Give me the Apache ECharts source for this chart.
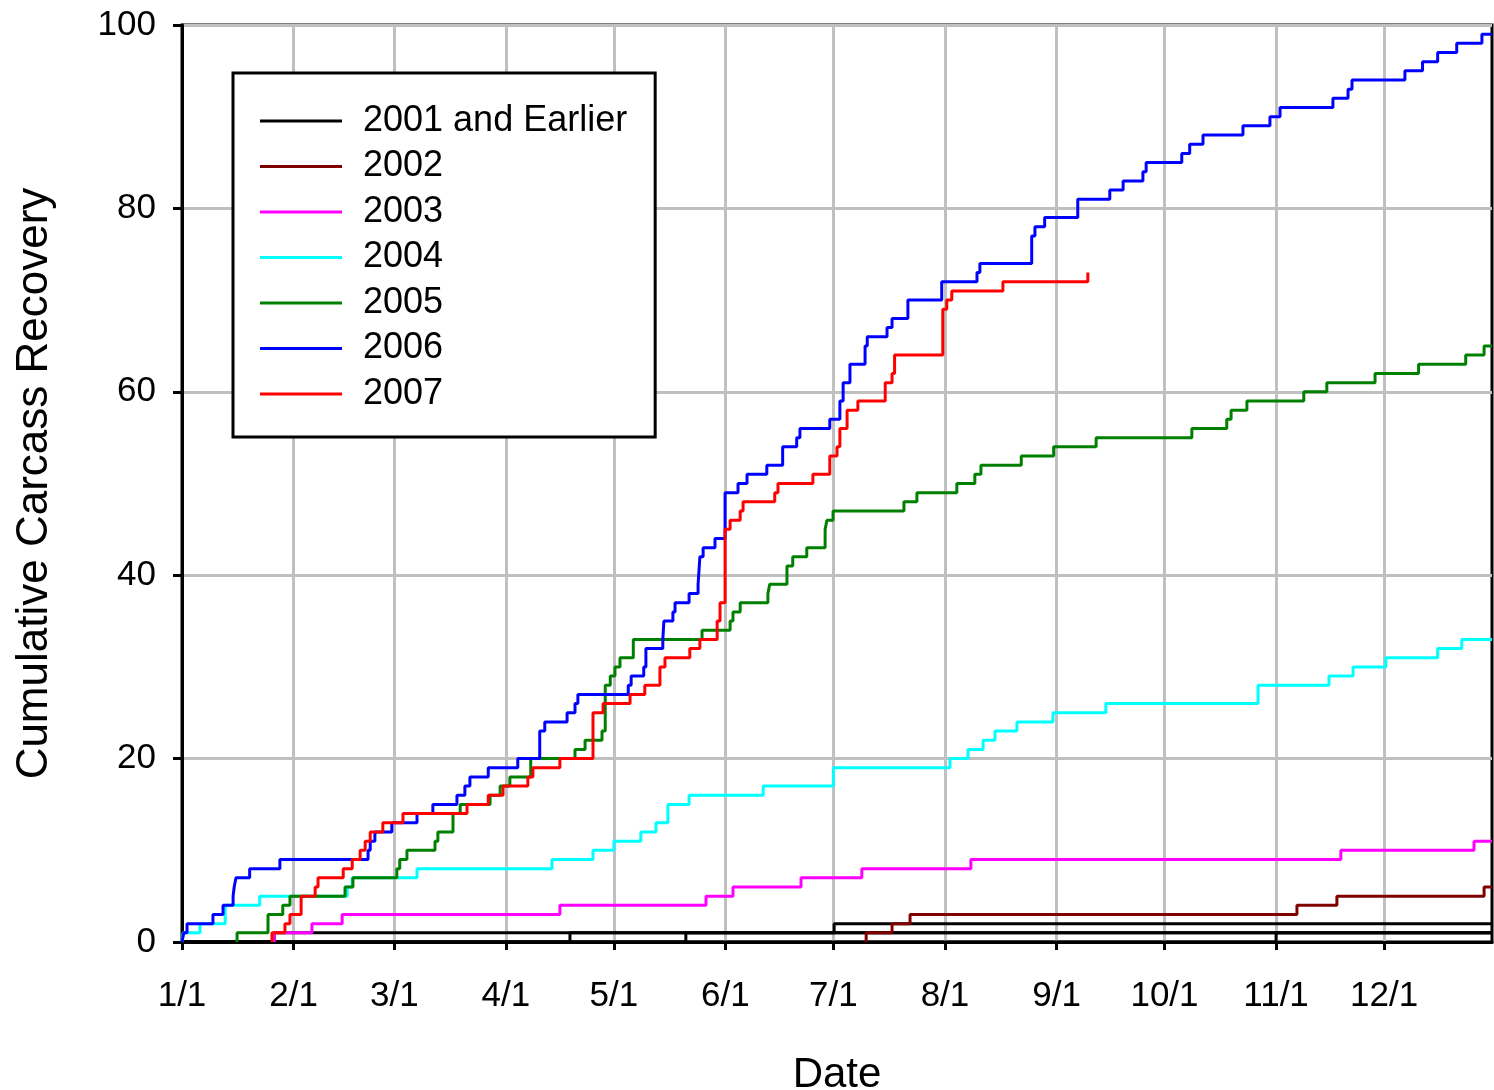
<!DOCTYPE html>
<html lang="en">
<head>
    <meta charset="UTF-8">
    <title>Cumulative Carcass Recovery</title>
    <script src="https://cdn.jsdelivr.net/npm/echarts@6.0.0/dist/echarts.min.js"></script>
    <style>
        body { margin: 0; background: #fff; }
    </style>
</head>
<body>
<div id="main" style="width:1494px;height:1090px;"></div>
<script type="text/javascript">
    // x = day of year (0 = 1/1), y = cumulative count
    var monthDays = [0, 31, 59, 90, 120, 151, 181, 212, 243, 273, 304, 334];
    var monthLabels = ['1/1', '2/1', '3/1', '4/1', '5/1', '6/1', '7/1', '8/1', '9/1', '10/1', '11/1', '12/1'];

    // "2001 and Earlier" is several black step lines
    var earlierA = [[0, 0], [25.6, 1], [181.2, 2], [364, 2]];
    var earlierB = [[0, 0], [107.8, 1], [364, 1]];
    var earlierC = [[0, 0], [140.0, 1], [364, 1]];
    var earlierD = [[0, 0], [304.0, 1], [364, 1]];

    var y2002 = [[190.1, 0], [190.1, 1], [197.3, 2], [202.3, 3], [309.8, 4], [320.9, 5], [361.8, 6], [364, 6]];

    var y2003 = [[25.6, 0], [25.6, 1], [36.1, 2], [44.5, 3], [105.0, 4], [145.6, 5], [153.1, 6], [172.0, 7],
        [188.9, 8], [219.2, 9], [322.0, 10], [359.0, 11], [364, 11]];

    var y2004 = [[0, 0], [0.3, 1], [5.0, 2], [12.0, 4], [21.6, 5], [45.9, 6], [47.3, 7], [65.3, 8], [102.8, 9],
        [114.2, 10], [120.0, 11], [127.5, 12], [131.7, 13], [135.0, 15], [140.9, 16], [161.5, 17], [181.0, 19],
        [213.4, 20], [218.4, 21], [222.6, 22], [225.9, 23], [232.0, 24], [242.0, 25], [256.7, 26], [299.0, 28],
        [318.7, 29], [325.4, 30], [334.5, 31], [348.9, 32], [355.6, 33], [364, 33]];

    var y2005 = [[15.3, 0], [15.3, 1], [23.9, 3], [28.0, 4], [30.0, 5], [45.3, 6], [47.5, 7], [59.7, 8], [60.5, 9],
        [62.5, 10], [70.3, 11], [71.1, 12], [75.3, 14], [77.3, 15], [85.6, 16], [88.4, 17], [91.1, 18], [96.9, 20],
        [109.2, 21], [112.0, 22], [116.7, 23], [117.6, 28], [119.0, 29], [120.3, 30], [121.7, 31], [125.4, 33],
        [144.5, 34], [152.3, 35], [153.1, 36], [155.1, 37], [162.8, 38], [163.3, 39], [168.1, 41], [169.7, 42],
        [173.6, 43], [178.7, 45], [179.2, 46], [180.9, 47], [200.6, 48], [204.2, 49], [215.3, 50], [220.3, 51],
        [222.0, 52], [233.2, 53], [242.2, 54], [254.0, 55], [280.6, 56], [290.3, 57], [291.5, 58], [295.9, 59],
        [311.7, 60], [318.1, 61], [331.5, 62], [343.6, 63], [356.7, 64], [361.8, 65], [364, 65]];

    var y2006 = [[0, 0], [0.5, 1], [1.4, 2], [8.6, 3], [11.4, 4], [14.2, 5], [14.5, 6], [15.0, 7], [18.8, 8],
        [27.2, 9], [51.7, 10], [52.3, 11], [53.6, 12], [58.3, 13], [65.3, 14], [69.7, 15], [76.4, 16], [78.6, 17],
        [80.0, 18], [85.1, 19], [93.3, 20], [99.4, 23], [100.8, 24], [107.0, 25], [109.2, 26], [110.0, 27],
        [124.0, 28], [124.8, 29], [128.3, 30], [128.9, 32], [133.6, 33], [133.9, 35], [136.4, 36], [137.0, 37],
        [140.9, 38], [143.4, 39], [143.9, 42], [144.8, 43], [148.1, 44], [150.9, 49], [154.5, 50], [157.0, 51],
        [162.5, 52], [166.9, 54], [170.8, 55], [171.7, 56], [180.0, 57], [182.8, 59], [183.7, 61], [185.6, 63],
        [189.8, 65], [190.4, 66], [195.9, 67], [197.3, 68], [201.7, 70], [211.1, 72], [220.9, 73], [221.7, 74],
        [236.1, 77], [237.0, 78], [239.7, 79], [248.9, 81], [257.8, 82], [261.5, 83], [267.0, 84], [267.9, 85],
        [277.8, 86], [280.0, 87], [283.7, 88], [294.8, 89], [302.3, 90], [305.1, 91], [319.8, 92], [324.0, 93],
        [325.1, 94], [339.8, 95], [344.7, 96], [348.9, 97], [354.2, 98], [361.2, 99], [364, 99]];

    var y2007 = [[25.0, 0], [25.0, 1], [28.6, 2], [30.0, 3], [33.1, 5], [37.0, 6], [37.8, 7], [44.8, 8], [47.3, 9],
        [49.5, 10], [50.9, 11], [52.3, 12], [55.8, 13], [61.4, 14], [79.2, 15], [85.1, 16], [89.2, 17], [96.1, 18],
        [97.5, 19], [105.0, 20], [114.2, 25], [117.0, 26], [124.5, 27], [128.6, 28], [132.8, 30], [134.2, 31],
        [141.1, 32], [143.9, 33], [148.7, 35], [149.5, 37], [150.9, 45], [152.3, 46], [155.1, 47], [155.9, 48],
        [164.7, 49], [165.6, 50], [175.3, 51], [180.0, 53], [182.0, 54], [182.8, 56], [184.8, 58], [187.8, 59],
        [195.4, 61], [197.3, 62], [198.0, 64], [211.4, 69], [212.5, 70], [213.9, 71], [228.1, 72], [251.7, 73]];

    var legendNames = ['2001 and Earlier', '2002', '2003', '2004', '2005', '2006', '2007'];

    var myChart = echarts.init(document.getElementById('main'));

    function stepLine(name, color, data) {
        return {
            name: name,
            type: 'line',
            step: 'end',
            data: data,
            symbol: 'none',
            itemStyle: {color: color},
            lineStyle: {color: color, width: 3}
        };
    }

    var font = 'Liberation Sans, Arial, sans-serif';

    var option = {
        animation: false,
        backgroundColor: '#fff',
        grid: {
            left: 182, right: 2, top: 25, bottom: 148,
            outerBoundsMode: 'none',
            show: true, borderColor: '#000', borderWidth: 3, backgroundColor: 'transparent'
        },
        legend: {
            data: legendNames,
            orient: 'vertical',
            left: 233, top: 73,
            padding: [30, 28, 25, 27],
            itemWidth: 82, itemHeight: 3, itemGap: 9.5,
            icon: 'rect',
            backgroundColor: '#fff',
            borderColor: '#000', borderWidth: 3,
            textStyle: {fontFamily: font, fontSize: 36, color: '#000', lineHeight: 36, padding: [0, 0, 0, 16]}
        },
        xAxis: {
            type: 'value', min: 0, max: 364,
            name: 'Date', nameLocation: 'middle', nameGap: 112,
            nameTextStyle: {fontFamily: font, fontSize: 42, color: '#000'},
            axisLine: {show: true, lineStyle: {color: '#000', width: 3}},
            axisTick: {show: true, customValues: monthDays, length: 8, lineStyle: {color: '#000', width: 3}},
            axisLabel: {
                customValues: monthDays, margin: 37,
                fontFamily: font, fontSize: 35, color: '#000',
                formatter: function (v) { return monthLabels[monthDays.indexOf(v)]; }
            },
            splitLine: {show: true, lineStyle: {color: '#c0c0c0', width: 3}}
        },
        yAxis: {
            type: 'value', min: 0, max: 100, interval: 20,
            name: 'Cumulative Carcass Recovery', nameLocation: 'middle', nameGap: 125,
            nameTextStyle: {fontFamily: font, fontSize: 44, color: '#000'},
            axisLine: {show: true, lineStyle: {color: '#000', width: 3}},
            axisTick: {show: true, length: 9, lineStyle: {color: '#000', width: 3}},
            axisLabel: {margin: 26, fontFamily: font, fontSize: 35, color: '#000'},
            splitLine: {show: true, lineStyle: {color: '#c0c0c0', width: 3}}
        },
        series: [
            stepLine('2001 and Earlier', '#000000', earlierA),
            stepLine('2001 and Earlier', '#000000', earlierB),
            stepLine('2001 and Earlier', '#000000', earlierC),
            stepLine('2001 and Earlier', '#000000', earlierD),
            stepLine('2002', '#800000', y2002),
            stepLine('2003', '#ff00ff', y2003),
            stepLine('2004', '#00ffff', y2004),
            stepLine('2005', '#008000', y2005),
            stepLine('2006', '#0000ff', y2006),
            stepLine('2007', '#ff0000', y2007)
        ]
    };
    myChart.setOption(option);
</script>
</body>
</html>
